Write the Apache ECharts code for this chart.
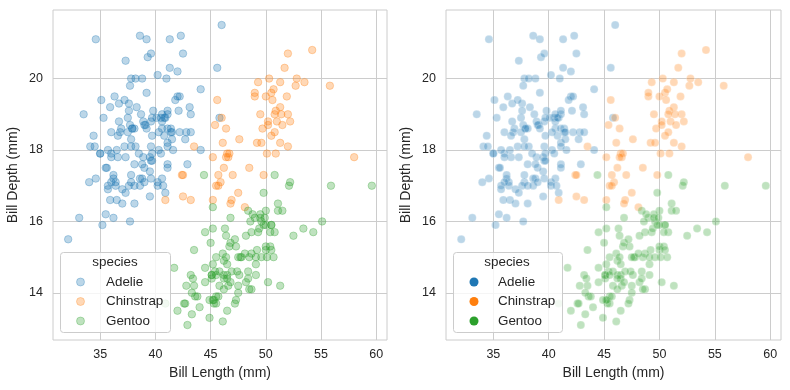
<!DOCTYPE html>
<html>
<head>
<meta charset="utf-8">
<script src="https://cdn.jsdelivr.net/npm/echarts@6/dist/echarts.min.js"></script>
<style>html,body{margin:0;padding:0;background:#fff}#c{width:790px;height:390px}</style>
</head>
<body>
<div id="c"></div>
<script>
const speciesNames = ['Adelie', 'Chinstrap', 'Gentoo'];
const xTicks = [35, 40, 45, 50, 55, 60];
const yTicks = [14, 16, 18, 20];

const adelieLen = [39.1,39.5,40.3,36.7,39.3,38.9,39.2,34.1,42.0,37.8,
37.8,41.1,38.6,34.6,36.6,38.7,42.5,34.4,46.0,37.8,
37.7,35.9,38.2,38.8,35.3,40.6,40.5,37.9,40.5,39.5,
37.2,39.5,40.9,36.4,39.2,38.8,42.2,37.6,39.8,36.5,
40.8,36.0,44.1,37.0,39.6,41.1,37.5,36.0,42.3,39.6,
40.1,35.0,42.0,34.5,41.4,39.0,40.6,36.5,37.6,35.7,
41.3,37.6,41.1,36.4,41.6,35.5,41.1,35.9,41.8,33.5,
39.7,39.6,45.8,35.5,42.8,40.9,37.2,36.2,42.1,34.6,
42.9,36.7,35.1,37.3,41.3,36.3,36.9,38.3,38.9,35.7,
41.1,34.0,39.6,36.2,40.8,38.1,40.3,33.1,43.2,35.0,
41.0,37.7,37.8,37.9,39.7,38.6,38.2,38.1,43.2,38.1,
45.6,39.7,42.2,39.6,42.7,38.6,37.3,35.7,41.1,36.2,
37.7,40.2,41.4,35.2,40.6,38.8,41.5,39.0,44.1,38.5,
43.1,36.8,37.5,38.1,41.1,35.6,40.2,37.0,39.7,40.2,
40.6,32.1,40.7,37.3,39.0,39.2,36.6,36.0,37.8,36.0,
41.5];
const adelieDep = [18.7,17.4,18.0,19.3,20.6,17.8,19.6,18.1,20.2,17.1,
17.3,17.6,21.2,21.1,17.8,19.0,20.7,18.4,21.5,18.3,
18.7,19.2,18.1,17.2,18.9,18.6,17.9,18.6,18.9,16.7,
18.1,17.8,18.9,17.0,21.1,20.0,18.5,19.3,19.1,18.0,
18.4,18.5,19.7,16.9,18.8,19.0,18.9,17.9,21.2,17.7,
18.9,17.9,19.5,18.1,18.6,17.5,18.8,16.6,19.1,16.9,
21.1,17.0,18.2,17.1,18.0,16.2,19.1,16.6,19.4,19.0,
18.4,17.2,18.9,17.5,18.5,16.8,19.4,16.1,19.1,17.2,
17.6,18.8,19.4,17.8,20.3,19.5,18.6,19.2,18.8,18.0,
18.1,17.1,18.1,17.3,18.9,18.6,18.5,16.1,18.5,17.9,
20.0,16.0,20.0,18.6,18.9,17.2,20.0,17.0,19.0,16.5,
20.3,17.7,19.5,20.7,18.3,17.0,20.5,17.0,18.6,17.2,
19.8,17.0,18.5,15.9,19.0,17.6,18.3,17.1,18.0,17.9,
19.2,18.5,18.5,17.6,17.5,17.5,20.1,16.5,17.9,17.1,
17.2,15.5,17.0,16.8,18.7,18.6,18.4,17.8,18.1,17.1,
18.5];

const chinLen = [46.5,50.0,51.3,45.4,52.7,45.2,46.1,51.3,46.0,51.3,
46.6,51.7,47.0,52.0,45.9,50.5,50.3,58.0,46.4,49.2,
42.4,48.5,43.2,50.6,46.7,52.0,50.5,49.5,46.4,52.8,
40.9,54.2,42.5,51.0,49.7,47.5,47.6,52.0,46.9,53.5,
49.0,46.2,50.9,45.5,50.9,50.8,50.1,49.0,51.5,49.8,
48.1,51.4,45.7,50.7,42.5,52.2,45.2,49.3,50.2,45.6,
51.9,46.8,45.7,55.8,43.5,49.6,50.8,50.2];
const chinDep = [17.9,19.5,19.2,18.7,19.8,17.8,18.2,18.2,18.9,19.9,
17.8,20.3,17.3,18.1,17.1,19.6,20.0,17.8,18.6,18.2,
17.3,17.5,16.6,19.4,17.9,19.0,18.4,19.0,17.8,20.0,
16.6,20.8,16.7,18.8,18.6,16.8,18.3,20.7,16.6,19.9,
19.5,17.5,19.1,17.0,17.9,18.5,17.9,19.6,18.7,17.3,
16.4,19.0,17.3,19.7,17.3,18.8,16.6,19.9,18.8,19.4,
19.5,16.5,17.0,19.8,18.1,18.2,19.0,18.7];

const gentooLen = [46.1,50.0,48.7,50.0,47.6,46.5,45.4,46.7,43.3,46.8,
40.9,49.0,45.5,48.4,45.8,49.3,42.0,49.2,46.2,48.7,
50.2,45.1,46.5,46.3,42.9,46.1,44.5,47.8,48.2,50.0,
47.3,42.8,45.1,59.6,49.1,48.4,42.6,44.4,44.0,48.7,
42.7,49.6,45.3,49.6,50.5,43.6,45.5,50.5,44.9,45.2,
46.6,48.5,45.1,50.1,46.5,45.0,43.8,45.5,43.2,50.4,
45.3,46.2,45.7,54.3,45.8,49.8,46.2,49.5,43.5,50.7,
47.7,46.4,48.2,46.5,46.4,48.6,47.5,51.1,45.2,45.2,
49.1,52.5,47.4,50.0,44.9,50.8,43.4,51.3,47.5,52.1,
47.5,52.2,45.5,49.5,44.5,50.8,49.4,46.9,48.4,51.1,
48.5,55.9,47.2,49.1,47.3,46.8,41.7,53.4,43.3,48.1,
50.5,49.8,43.5,51.5,46.2,55.1,44.5,48.8,47.2,46.8,
50.4,45.2,49.9];
const gentooDep = [13.2,16.3,14.1,15.2,14.5,13.5,14.6,15.3,13.4,15.4,
13.7,16.1,13.7,14.6,14.6,15.7,13.5,15.2,14.5,15.1,
14.3,14.5,14.5,15.8,13.1,15.1,14.3,15.0,14.3,15.3,
15.3,14.2,14.5,17.0,14.8,16.3,13.7,17.3,13.6,15.7,
13.7,16.0,13.7,15.0,15.9,13.9,13.9,15.9,13.3,15.8,
14.2,14.1,14.4,15.0,14.4,15.4,13.9,15.0,14.5,15.3,
13.8,14.9,13.9,15.7,14.2,16.8,14.4,16.2,14.2,15.0,
15.0,15.6,15.6,14.8,15.0,16.0,14.2,16.3,13.8,16.4,
14.5,15.6,14.6,15.9,13.8,17.3,14.4,14.2,14.0,17.0,
15.0,17.1,14.5,16.1,14.7,15.7,15.8,14.6,14.4,16.5,
15.0,17.0,15.5,15.0,13.8,16.1,14.7,15.8,14.0,15.1,
15.2,15.9,15.2,16.3,14.1,16.0,15.7,16.2,13.7,14.3,
15.7,14.8,16.1];

const colors = ['#1f77b4', '#ff7f0e', '#2ca02c'];
const lens = [adelieLen, chinLen, gentooLen];
const deps = [adelieDep, chinDep, gentooDep];
const zip = (a, b) => a.map((v, i) => [v, b[i]]);

const FONT = '"Liberation Sans", Arial, "DejaVu Sans", sans-serif';
const TXT = '#262626';
const GRID = '#cccccc';

const xMin = 30.725, xMax = 60.975, yMin = 12.68, yMax = 21.92;

function xAxis(idx) {
  return {
    type: 'value', gridIndex: idx, min: xMin, max: xMax,
    name: 'Bill Length (mm)', nameLocation: 'middle', nameGap: 25,
    nameTextStyle: { color: TXT, fontSize: 14, fontFamily: FONT },
    axisLine: { show: false },
    axisTick: { show: false, customValues: xTicks },
    axisLabel: { customValues: xTicks, color: TXT, fontSize: 12.5, fontFamily: FONT, margin: 8.5 },
    splitLine: { show: true, lineStyle: { color: GRID, width: 1 } }
  };
}
function yAxis(idx) {
  return {
    type: 'value', gridIndex: idx, min: yMin, max: yMax,
    name: 'Bill Depth (mm)', nameLocation: 'middle', nameGap: 33, nameRotate: 90,
    nameTextStyle: { color: TXT, fontSize: 14, fontFamily: FONT },
    axisLine: { show: false },
    axisTick: { show: false, customValues: yTicks },
    axisLabel: { customValues: yTicks, color: TXT, fontSize: 12.5, fontFamily: FONT, margin: 10 },
    splitLine: { show: true, lineStyle: { color: GRID, width: 1 } }
  };
}

const series = [];
speciesNames.forEach((name, i) => {
  series.push({
    type: 'scatter', name: name, xAxisIndex: 0, yAxisIndex: 0,
    data: zip(lens[i], deps[i]), symbolSize: 7.5,
    itemStyle: { color: colors[i], opacity: 0.3, borderColor: colors[i], borderWidth: 1 },
    emphasis: { disabled: true }, silent: true
  });
});
speciesNames.forEach((name, i) => {
  series.push({
    type: 'scatter', name: name + ' ', xAxisIndex: 1, yAxisIndex: 1,
    data: zip(lens[i], deps[i]), symbolSize: 8,
    itemStyle: { color: colors[i], opacity: 0.3, borderColor: '#ffffff', borderWidth: 0.75 },
    emphasis: { disabled: true }, silent: true
  });
});

function legendGraphic(box, titleX, markerX, textX, rowsY, titleY, solid) {
  const els = [{
    type: 'rect', z: 100,
    shape: { x: box[0], y: box[1], width: box[2], height: box[3], r: 3 },
    style: { fill: 'rgba(255,255,255,0.8)', stroke: GRID, lineWidth: 1 }
  }, {
    type: 'text', z: 101, x: titleX, y: titleY,
    style: { text: 'species', fill: TXT, font: '13.4px ' + FONT, align: 'center', verticalAlign: 'middle' }
  }];
  speciesNames.forEach((name, i) => {
    els.push({
      type: 'circle', z: 101,
      shape: { cx: markerX, cy: rowsY[i], r: solid ? 4.5 : 4 },
      style: solid ? { fill: colors[i] } : { fill: colors[i], stroke: colors[i], lineWidth: 1, opacity: 0.3 }
    });
    els.push({
      type: 'text', z: 101, x: textX, y: rowsY[i],
      style: { text: name, fill: TXT, font: '13.4px ' + FONT, align: 'left', verticalAlign: 'middle' }
    });
  });
  return els;
}

const rows = [282, 301.5, 321];
const option = {
  animation: false,
  backgroundColor: '#ffffff',
  grid: [
    { left: 53, top: 10, width: 334, height: 330, show: true, borderColor: GRID, borderWidth: 1, backgroundColor: 'transparent' },
    { left: 446, top: 10, width: 335, height: 330, show: true, borderColor: GRID, borderWidth: 1, backgroundColor: 'transparent' }
  ],
  xAxis: [xAxis(0), xAxis(1)],
  yAxis: [yAxis(0), yAxis(1)],
  series: series,
  graphic: [
    ...legendGraphic([60.5, 252.5, 110, 80], 115, 80.5, 106, rows, 262, false),
    ...legendGraphic([453.5, 252.5, 109, 80], 507, 474, 498, rows, 262, true)
  ]
};

const chart = echarts.init(document.getElementById('c'), null, { renderer: 'canvas' });
chart.setOption(option);
</script>
</body>
</html>
